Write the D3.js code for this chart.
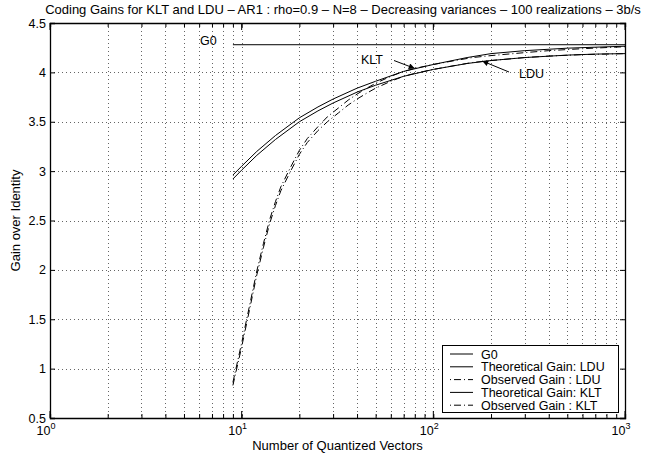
<!DOCTYPE html>
<html><head><meta charset="utf-8">
<script src="https://cdn.jsdelivr.net/npm/d3@7"></script>
<style>
body{margin:0;background:#fff;}
text{font-family:"Liberation Sans",Arial,Helvetica,sans-serif;fill:#000;}
</style></head>
<body>
<svg id="c" width="652" height="456"></svg>
<script>
const title = "Coding Gains for KLT and LDU \u2013 AR1 : rho=0.9 \u2013 N=8 \u2013 Decreasing variances \u2013 100 realizations \u2013 3b/s";
const xLabel = "Number of Quantized Vectors";
const yLabel = "Gain over Identity";
const xTickValues = [1, 10, 100, 1000];
const xTickExponents = ["0", "1", "2", "3"];
const yTickValues = [0.5, 1, 1.5, 2, 2.5, 3, 3.5, 4, 4.5];
const yTickLabels = ["0.5", "1", "1.5", "2", "2.5", "3", "3.5", "4", "4.5"];

const g0N = [9, 1000];
const g0Value = [4.28, 4.28];

const theoN = [9, 10, 12, 15, 20, 25, 30, 40, 50, 70, 100, 150, 200, 300, 500, 700, 1000];
const theoLDU = [2.92, 3.01, 3.16, 3.32, 3.50, 3.61, 3.69, 3.80, 3.87, 3.96, 4.03, 4.09, 4.12, 4.15, 4.175, 4.185, 4.19];
const theoKLT = [2.96, 3.05, 3.20, 3.36, 3.54, 3.65, 3.73, 3.84, 3.91, 4.01, 4.08, 4.15, 4.19, 4.22, 4.245, 4.255, 4.265];

const obsN = [9, 10, 11, 12, 13, 14, 15, 16, 18, 20, 22, 25, 28, 32, 36, 40, 45, 50, 60, 70, 80, 100, 130, 160, 200, 300, 400, 600, 1000];
const obsLDU = [0.83, 1.22, 1.60, 1.95, 2.23, 2.47, 2.65, 2.80, 3.00, 3.17, 3.29, 3.41, 3.50, 3.59, 3.67, 3.73, 3.79, 3.84, 3.91, 3.96, 3.99, 4.03, 4.07, 4.10, 4.12, 4.15, 4.165, 4.18, 4.19];
const obsKLT = [0.86, 1.26, 1.64, 1.99, 2.27, 2.51, 2.69, 2.84, 3.04, 3.21, 3.33, 3.45, 3.55, 3.64, 3.72, 3.78, 3.84, 3.89, 3.96, 4.01, 4.04, 4.08, 4.12, 4.15, 4.17, 4.20, 4.22, 4.24, 4.26];

const legendLabels = ["G0", "Theoretical Gain: LDU", "Observed Gain : LDU", "Theoretical Gain: KLT", "Observed Gain : KLT"];

const L = 50, R = 625, T = 23, B = 418;
const FS = 12.5;
const svg = d3.select("#c");
const x = d3.scaleLog().domain([1, 1000]).range([L, R]);
const y = d3.scaleLinear().domain([0.5, 4.5]).range([B, T]);

// grid
const minorX = [];
for (let d = 1; d < 1000; d *= 10) for (let k = 1; k < 10; k++) minorX.push(d * k);
minorX.push(1000);
const grid = svg.append("g").attr("stroke", "#000").attr("stroke-width", 1).attr("stroke-dasharray", "1,3").attr("opacity", 0.6);
minorX.filter(v => v > 1 && v < 1000).forEach(v => {
  grid.append("line").attr("x1", Math.round(x(v)) + 0.5).attr("x2", Math.round(x(v)) + 0.5).attr("y1", T).attr("y2", B);
});
yTickValues.filter(v => v > 0.5 && v < 4.5).forEach(v => {
  grid.append("line").attr("x1", L).attr("x2", R).attr("y1", Math.round(y(v)) + 0.5).attr("y2", Math.round(y(v)) + 0.5);
});

// axes with inward ticks
const axB = d3.axisBottom(x).tickValues(minorX).tickSize(-4).tickFormat("");
const axT = d3.axisTop(x).tickValues(minorX).tickSize(-4).tickFormat("");
const axL = d3.axisLeft(y).tickValues(yTickValues).tickSize(-5).tickFormat("");
const axR = d3.axisRight(y).tickValues(yTickValues).tickSize(-5).tickFormat("");
[[axB, `translate(0,${B})`], [axT, `translate(0,${T})`], [axL, `translate(${L},0)`], [axR, `translate(${R},0)`]].forEach(([a, t]) => {
  const g = svg.append("g").attr("transform", t).call(a);
  g.selectAll("path").attr("stroke", "#000").attr("stroke-width", 1.3);
  g.selectAll("line").attr("stroke", "#000");
});
svg.append("g").selectAll("line").data(xTickValues).join("line")
  .attr("x1", d => x(d)).attr("x2", d => x(d)).attr("y1", B).attr("y2", B - 7).attr("stroke", "#000");
svg.append("g").selectAll("line").data(xTickValues).join("line")
  .attr("x1", d => x(d)).attr("x2", d => x(d)).attr("y1", T).attr("y2", T + 7).attr("stroke", "#000");

// tick labels
yTickValues.forEach((v, i) => {
  svg.append("text").attr("x", L - 4).attr("y", y(v) + 4.5).attr("text-anchor", "end").attr("font-size", FS).text(yTickLabels[i]);
});
xTickValues.forEach((v, i) => {
  const t = svg.append("text").attr("x", x(v) - 4).attr("y", B + 17).attr("text-anchor", "middle").attr("font-size", FS);
  t.append("tspan").text("10");
  t.append("tspan").attr("dy", -6).attr("font-size", 9).text(xTickExponents[i]);
});

svg.append("text").attr("x", (L + R) / 2).attr("y", 450).attr("text-anchor", "middle").attr("font-size", 13).text(xLabel);
svg.append("text").attr("transform", `translate(20,${(T + B) / 2}) rotate(-90)`).attr("text-anchor", "middle").attr("font-size", 13).text(yLabel);
svg.append("text").attr("x", 343).attr("y", 14).attr("text-anchor", "middle").attr("font-size", 13).text(title);

// curves
const line = d3.line().x(d => x(d[0])).y(d => y(d[1]));
const zip = (a, b) => a.map((v, i) => [v, b[i]]);
const dashDot = "7,3,1,3";
const series = [
  [zip(g0N, g0Value), null],
  [zip(theoN, theoLDU), null],
  [zip(obsN, obsLDU), dashDot],
  [zip(theoN, theoKLT), null],
  [zip(obsN, obsKLT), dashDot]
];
series.forEach(([d, dash]) => {
  svg.append("path").datum(d).attr("d", line).attr("fill", "none").attr("stroke", "#000").attr("stroke-width", 1)
    .attr("stroke-dasharray", dash);
});

// annotations
svg.append("defs").append("marker").attr("id", "ah").attr("viewBox", "0 0 10 10").attr("refX", 10).attr("refY", 5)
  .attr("markerWidth", 8).attr("markerHeight", 6).attr("orient", "auto").attr("markerUnits", "userSpaceOnUse")
  .append("path").attr("d", "M0,0L10,5L0,10z").attr("fill", "#000");
svg.append("text").attr("x", 200).attr("y", 45).attr("font-size", FS).text("G0");
svg.append("text").attr("x", 361).attr("y", 64).attr("font-size", FS).text("KLT");
svg.append("line").attr("x1", 394).attr("y1", 60.5).attr("x2", x(80)).attr("y2", y(4.04))
  .attr("stroke", "#000").attr("marker-end", "url(#ah)");
svg.append("text").attr("x", 519).attr("y", 78).attr("font-size", FS).text("LDU");
svg.append("line").attr("x1", 509).attr("y1", 72).attr("x2", x(180)).attr("y2", y(4.115))
  .attr("stroke", "#000").attr("marker-end", "url(#ah)");

// legend
const lg = svg.append("g");
lg.append("rect").attr("x", 442.5).attr("y", 345.5).attr("width", 176).attr("height", 67).attr("fill", "#fff").attr("stroke", "#000");
legendLabels.forEach((lab, i) => {
  const yy = 354 + i * 12.8;
  lg.append("line").attr("x1", 450).attr("x2", 473).attr("y1", yy).attr("y2", yy).attr("stroke", "#000")
    .attr("stroke-dasharray", series[i][1] ? "1,3,7,3" : null);
  lg.append("text").attr("x", 481).attr("y", yy + 4.5).attr("font-size", 12.5).text(lab);
});
</script>
</body></html>
